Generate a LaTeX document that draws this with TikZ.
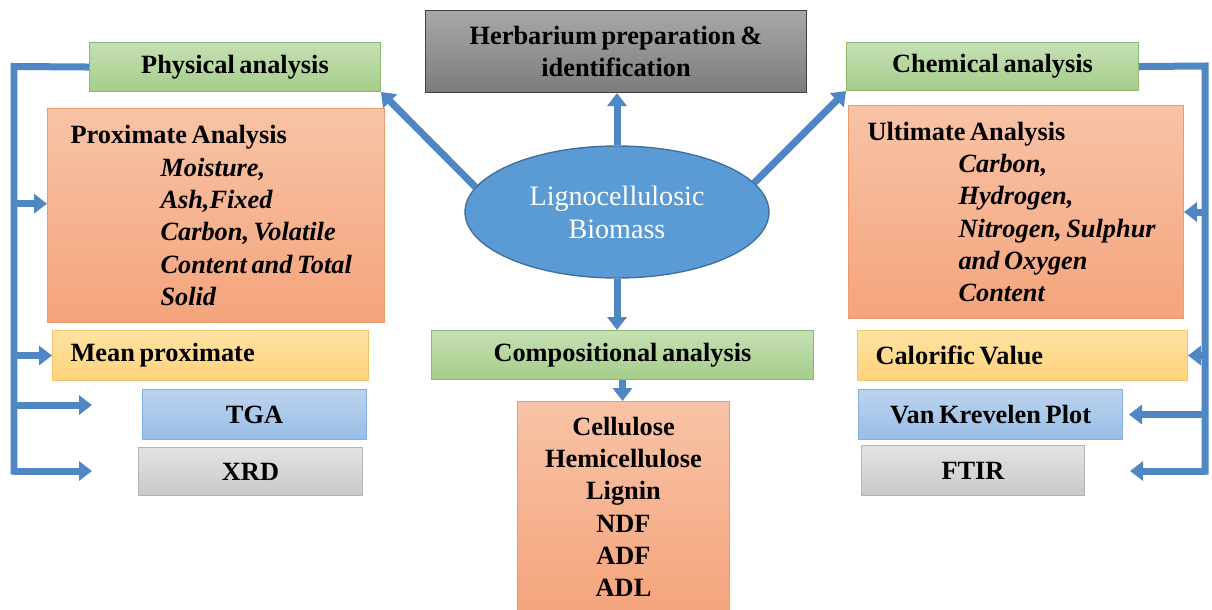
\documentclass[tikz,border=0pt]{standalone}
\usepackage{fontspec}
\setmainfont{Liberation Serif}[WordSpace=0.7]
\usepackage{xcolor}
\definecolor{cBlue}{HTML}{5B9BD5}
\definecolor{cBlueDark}{HTML}{41719C}
\definecolor{cArrow}{HTML}{4F87C4}
\definecolor{cGreenTop}{HTML}{C6E0B4}
\definecolor{cGreenBot}{HTML}{A5CD8A}
\definecolor{cGreenLine}{HTML}{8CB86E}
\definecolor{cSalmonTop}{HTML}{F8C3A6}
\definecolor{cSalmonBot}{HTML}{F4A47C}
\definecolor{cSalmonLine}{HTML}{EE9A6E}
\definecolor{cYellowTop}{HTML}{FFE3A3}
\definecolor{cYellowBot}{HTML}{FFD27A}
\definecolor{cYellowLine}{HTML}{F4C46A}
\definecolor{cSkyTop}{HTML}{BDD4EE}
\definecolor{cSkyBot}{HTML}{98BDE6}
\definecolor{cSkyLine}{HTML}{85AEE0}
\definecolor{cGrayTop}{HTML}{E3E3E3}
\definecolor{cGrayBot}{HTML}{C9C9C9}
\definecolor{cGrayLine}{HTML}{B5B5B5}
\definecolor{cDarkTop}{HTML}{A8A8A8}
\definecolor{cDarkBot}{HTML}{7C7C7C}
\usepackage{tikz}
\usetikzlibrary{arrows.meta,shapes.geometric}
\tikzset{
  node-box/.style={line width=0.6pt,anchor=north west,inner sep=0pt,align=center,
    font=\fontsize{15}{18.4}\selectfont\bfseries},
  node-green/.style={draw=cGreenLine,top color=cGreenTop,bottom color=cGreenBot},
  node-salmon/.style={draw=cSalmonLine,top color=cSalmonTop,bottom color=cSalmonBot},
  node-yellow/.style={draw=cYellowLine,top color=cYellowTop,bottom color=cYellowBot},
  node-sky/.style={draw=cSkyLine,top color=cSkyTop,bottom color=cSkyBot},
  node-gray/.style={draw=cGrayLine,top color=cGrayTop,bottom color=cGrayBot},
  node-dark/.style={draw=black!75,top color=cDarkTop,bottom color=cDarkBot},
  node-bio/.style={ellipse,draw=cBlueDark,line width=0.8pt,fill=cBlue,inner sep=0pt,
    minimum width=6.08cm,minimum height=2.64cm,text=white,align=center,
    font=\fontsize{16}{18.7}\selectfont},
  arrow/.style={-{Triangle[length=0.26cm,width=0.38cm]},line width=0.14cm,draw=cArrow},
  trunk/.style={line width=0.14cm,draw=cArrow},
}

\begin{document}
\begin{tikzpicture}[x=0.02cm,y=-0.02cm]
  \useasboundingbox (0,0) rectangle (1212,609);
  \fill[white] (0,0) rectangle (1212,609);

  % top row
  \node[node-box,node-green,minimum width=5.82cm,minimum height=0.98cm] (phys) at (89,42) {Physical analysis};
  \node[node-box,node-dark,minimum width=7.62cm,minimum height=1.64cm] (herb) at (425,10) {Herbarium preparation \&\\identification};
  \node[node-box,node-green,minimum width=5.84cm,minimum height=0.96cm] (chem) at (846,42) {Chemical analysis};

  % left column
  \node[node-box,node-salmon,minimum width=6.74cm,minimum height=4.28cm,inner xsep=0.46cm,
    text width=5.82cm,align=flush left] (prox) at (47,108) {Proximate Analysis\\
    \hspace*{1.8cm}\textit{Moisture,}\\
    \hspace*{1.8cm}\textit{Ash,Fixed}\\
    \hspace*{1.8cm}\textit{Carbon, Volatile}\\
    \hspace*{1.8cm}\textit{Content and Total}\\
    \hspace*{1.8cm}\textit{Solid}};
  \node[node-box,node-yellow,minimum width=6.32cm,minimum height=1cm,inner xsep=0.36cm,
    text width=5.6cm,align=flush left] (mean) at (52,330) {Mean proximate};
  \node[node-box,node-sky,minimum width=4.48cm,minimum height=1cm] (tga) at (142,389) {TGA};
  \node[node-box,node-gray,minimum width=4.48cm,minimum height=0.96cm] (xrd) at (138,447) {XRD};

  % right column
  \node[node-box,node-salmon,minimum width=6.70cm,minimum height=4.26cm,inner xsep=0.38cm,
    text width=5.94cm,align=flush left] (ult) at (848,105) {Ultimate Analysis\\
    \hspace*{1.82cm}\textit{Carbon,}\\
    \hspace*{1.82cm}\textit{Hydrogen,}\\
    \hspace*{1.82cm}\textit{Nitrogen, Sulphur}\\
    \hspace*{1.82cm}\textit{and Oxygen}\\
    \hspace*{1.82cm}\textit{Content}};
  \node[node-box,node-yellow,minimum width=6.6cm,minimum height=1cm,inner xsep=0.36cm,
    text width=5.88cm,align=flush left] (calo) at (857,330) {Calorific Value};
  \node[node-box,node-sky,minimum width=5.28cm,minimum height=1cm] (vank) at (858,389) {Van Krevelen Plot};
  \node[node-box,node-gray,minimum width=4.46cm,minimum height=1cm] (ftir) at (861,445) {FTIR};

  % middle column
  \node[node-box,node-green,minimum width=7.64cm,minimum height=0.98cm] (comp) at (431,330) {Compositional analysis};
  \node[node-box,node-salmon,minimum width=4.24cm,minimum height=4.22cm] (parts) at (517,401)
    {Cellulose\\Hemicellulose\\Lignin\\NDF\\ADF\\ADL};
  \node[node-bio] (bio) at (617,212) {Lignocellulosic\\Biomass};

  % free ends of the side branches
  \coordinate (lt) at (14,66.5);
  \coordinate (lb) at (14,474.5);
  \coordinate (rt) at (1205,66);
  \coordinate (rb) at (1205,474.5);
  \coordinate (tga-in) at (92,405);
  \coordinate (xrd-in) at (92,471);
  \coordinate (ftir-in) at (1130,471);

  % physical analysis bracket
  \draw[trunk] (phys.west) -- (lt) -- (lb);
  \draw[arrow] (lt |- prox.176.6) -- (prox.176.6);
  \draw[arrow] (lt |- mean.west) -- (mean.west);
  \draw[arrow] (lt |- tga-in) -- (tga-in);
  \draw[arrow] (lt |- xrd-in) -- (xrd-in);

  % chemical analysis bracket
  \draw[trunk] (chem.east) -- (rt) -- (rb);
  \draw[arrow] (rt |- ult.east) -- (ult.east);
  \draw[arrow] (rt |- calo.east) -- (calo.east);
  \draw[arrow,shorten >=0.12cm] (rt |- vank.east) -- (vank.east);
  \draw[arrow] (rt |- ftir-in) -- (ftir-in);

  % out of the biomass
  \draw[arrow] (bio.north) -- (bio.north |- herb.south);
  \draw[arrow] (bio.170) -- (phys.south east);
  \draw[arrow] (bio.12) -- (chem.south west);
  \draw[arrow] (bio.south) -- (bio.south |- comp.north);
  \draw[arrow] (comp.south) -- (comp.south |- parts.north);
\end{tikzpicture}
\end{document}
